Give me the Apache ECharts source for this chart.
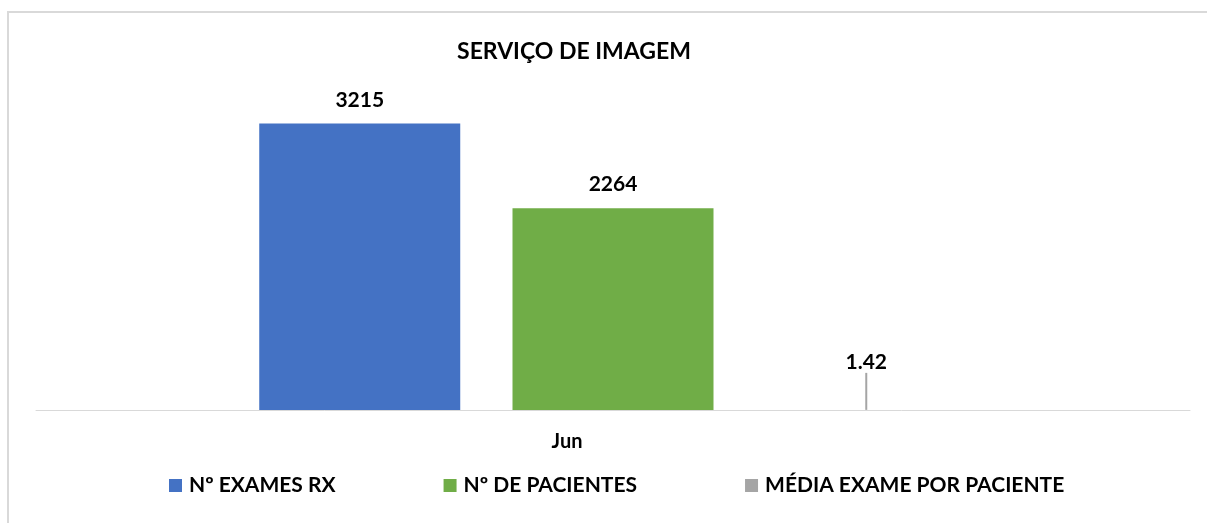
<!DOCTYPE html>
<html>
<head>
<meta charset="utf-8">
<script src="https://cdn.jsdelivr.net/npm/echarts@6/dist/echarts.min.js"></script>
<style>
  html, body { margin: 0; padding: 0; background: #fff; }
  #chart {
    position: absolute; left: 7px; top: 11px;
    width: 1200px; height: 512px;
    border-left: 2px solid #d9d9d9; border-top: 2px solid #d9d9d9;
  }
</style>
</head>
<body>
<div id="chart"></div>
<script>
// dados do gráfico
const categories = ['Jun']
const seriesNames = ['Nº EXAMES RX', 'Nº DE PACIENTES', 'MÉDIA EXAME POR PACIENTE']
const exames = [3215]
const pacientes = [2264]
const media = [1.42]
const colors = ['#4472c4', '#70ad47', '#a5a5a5']

const font = 'Lato, "Open Sans", sans-serif'
const labelStyle = {
  show: true,
  position: 'top',
  distance: 13,
  color: '#000',
  fontWeight: 'bold',
  fontSize: 21,
  fontFamily: font,
}

const chart = echarts.init(document.getElementById('chart'))
chart.setOption({
  animation: false,
  title: {
    text: 'SERVIÇO DE IMAGEM',
    left: 560,
    textAlign: 'center',
    top: 22,
    textStyle: { fontFamily: font, fontWeight: 'bold', fontSize: 23, color: '#000' },
  },
  legend: {
    left: 155,
    top: 457,
    itemWidth: 13,
    itemHeight: 13,
    itemGap: 108,
    data: seriesNames.map((name, i) => ({
      name,
      icon: 'path://M0,0H10V10H0Z',
      itemStyle: { color: colors[i], borderWidth: 0, opacity: 1 },
    })),
    textStyle: { fontFamily: font, fontWeight: 'bold', fontSize: 21, color: '#000', padding: [0, 0, 0, 2] },
  },
  grid: { left: 27, right: 19, top: 85, bottom: 115 },
  xAxis: {
    type: 'category',
    data: categories,
    axisLine: { lineStyle: { color: '#d9d9d9', width: 1 } },
    axisTick: { show: false },
    axisLabel: {
      margin: 22,
      color: '#000',
      fontWeight: 'bold',
      fontSize: 20,
      fontFamily: font,
      padding: [0, 92, 0, 0],
    },
  },
  yAxis: {
    type: 'value',
    min: 0,
    max: 3500,
    show: false,
    splitLine: { show: false },
  },
  series: [
    {
      name: seriesNames[0],
      type: 'bar',
      data: exames,
      barWidth: 201,
      barGap: '26%',
      itemStyle: { color: colors[0] },
      label: labelStyle,
    },
    {
      name: seriesNames[1],
      type: 'bar',
      data: pacientes,
      barWidth: 201,
      barGap: '26%',
      itemStyle: { color: colors[1] },
      label: labelStyle,
    },
    {
      name: seriesNames[2],
      type: 'bar',
      // a barra é quase zero; só o rótulo e a linha guia aparecem
      data: media.map(v => ({ value: v, itemStyle: { color: 'rgba(0,0,0,0)' } })),
      barWidth: 201,
      barGap: '26%',
      itemStyle: { color: colors[2] },
      label: labelStyle,
      labelLayout: { dy: -24 },
      labelLine: { show: true, lineStyle: { color: '#a5a5a5', width: 2 } },
    },
  ],
})
</script>
</body>
</html>
